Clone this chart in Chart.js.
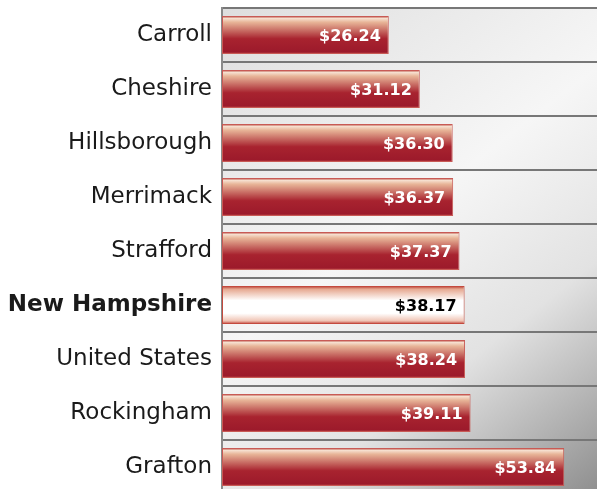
<!DOCTYPE html>
<html>
<head>
<meta charset="utf-8">
<script src="https://cdn.jsdelivr.net/npm/chart.js@4"></script>
<style>
  html, body { margin: 0; padding: 0; background: #fff; overflow: hidden; }
  #wrap { width: 597px; height: 494px; }
</style>
</head>
<body>
<div id="wrap"><canvas id="myChart"></canvas></div>
<script>
const categories = ["Carroll", "Cheshire", "Hillsborough", "Merrimack", "Strafford",
                    "New Hampshire", "United States", "Rockingham", "Grafton"];
const wages = [26.24, 31.12, 36.30, 36.37, 37.37, 38.17, 38.24, 39.11, 53.84];
const highlight = "New Hampshire";

function barGradient(ctx, top, bottom, isState) {
    const g = ctx.createLinearGradient(0, top, 0, bottom);
    if (isState) {
        g.addColorStop(0, '#b83a30');
        g.addColorStop(0.08, '#e6a890');
        g.addColorStop(0.38, '#ffffff');
        g.addColorStop(0.72, '#ffffff');
        g.addColorStop(0.92, '#f0c4b4');
        g.addColorStop(1, '#c04038');
    } else {
        g.addColorStop(0, '#b2382f');
        g.addColorStop(0.06, '#f6e0d0');
        g.addColorStop(0.16, '#e8b598');
        g.addColorStop(0.6, '#a8232f');
        g.addColorStop(0.95, '#9c1a2b');
        g.addColorStop(1, '#c45050');
    }
    return g;
}

const bgPlugin = {
    id: 'plotBg',
    beforeDraw(chart) {
        const { ctx, chartArea: a } = chart;
        const g = ctx.createLinearGradient(a.left, a.top, a.right, a.bottom);
        g.addColorStop(0, '#dedede');
        g.addColorStop(0.45, '#f6f6f6');
        g.addColorStop(0.7, '#e2e2e2');
        g.addColorStop(1, '#8e8e8e');
        ctx.save();
        ctx.fillStyle = g;
        ctx.fillRect(a.left, a.top, a.right - a.left, a.bottom - a.top);
        ctx.restore();
    }
};

const valuePlugin = {
    id: 'values',
    afterDatasetsDraw(chart) {
        const ctx = chart.ctx;
        const meta = chart.getDatasetMeta(0);
        ctx.save();
        ctx.font = 'bold 16px "DejaVu Sans"';
        ctx.textAlign = 'right';
        ctx.textBaseline = 'middle';
        meta.data.forEach((bar, i) => {
            ctx.fillStyle = categories[i] === highlight ? '#000' : '#fff';
            ctx.fillText('$' + wages[i].toFixed(2), bar.x - 8, bar.y + 2);
        });
        ctx.restore();
    }
};

const ctx = document.getElementById('myChart');
new Chart(ctx, {
    type: 'bar',
    data: {
        labels: categories,
        datasets: [{
            data: wages,
            backgroundColor(c) {
                const chart = c.chart;
                if (!chart.chartArea || !chart.scales.y) return '#a8232f';
                const y = chart.scales.y.getPixelForValue(c.index);
                const h = 54 * 0.7 / 2;
                return barGradient(chart.ctx, y - h, y + h, categories[c.index] === highlight);
            },
            borderColor: (c) => categories[c.index] === highlight ? '#c44a3e' : '#c85a55',
            borderWidth: 1,
            borderSkipped: false,
            categoryPercentage: 1,
            barPercentage: 0.7
        }]
    },
    options: {
        indexAxis: 'y',
        responsive: true,
        maintainAspectRatio: false,
        animation: false,
        layout: { padding: { top: 8, left: 0, right: 0, bottom: 0 } },
        plugins: {
            legend: { display: false },
            tooltip: { enabled: false }
        },
        scales: {
            x: {
                display: false,
                min: 0,
                max: 59
            },
            y: {
                afterFit(scale) {
                    scale.width = 222;
                    scale.paddingTop = 0;
                    scale.paddingBottom = 0;
                },
                grid: {
                    color: '#777',
                    lineWidth: 2,
                    drawTicks: false,
                    offset: true
                },
                border: { color: '#8a8a8a', width: 2 },
                ticks: {
                    padding: 10,
                    color: '#1a1a1a',
                    font: (c) => ({
                        family: '"DejaVu Sans"',
                        size: 23,
                        weight: categories[c.index] === highlight ? 'bold' : 'normal'
                    })
                }
            }
        }
    },
    plugins: [bgPlugin, valuePlugin]
});
</script>
</body>
</html>
